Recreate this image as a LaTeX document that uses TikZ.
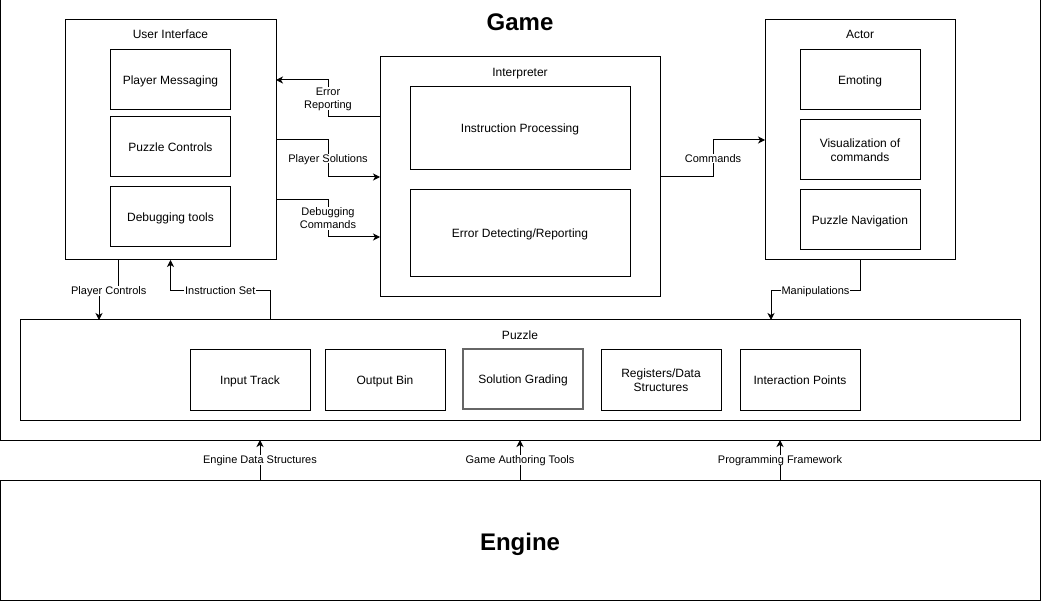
\documentclass[tikz,border=0pt]{standalone}
\usepackage{fontspec}
\setmainfont{Liberation Sans}
\usetikzlibrary{arrows.meta}
\definecolor{gradegray}{RGB}{102,102,102}

\tikzset{
  box/.style={draw, line width=1pt, inner sep=0pt, outer sep=0pt, align=center,
    text depth=0pt, font=\fontsize{12}{14}\selectfont},
  part/.style={box, minimum width=120pt, minimum height=60pt},
  heading/.style={inner sep=0pt, text depth=0pt, font=\fontsize{12}{14}\selectfont},
  bigheading/.style={inner sep=0pt, text depth=0pt, font=\fontsize{24}{28}\selectfont\bfseries},
  lbl/.style={fill=white, inner sep=1pt, align=center, text depth=0pt, font=\fontsize{11}{13}\selectfont},
  arr/.style={line width=1pt, -{Stealth[length=7pt,width=7pt,inset=2pt]}},
}

\begin{document}
\begin{tikzpicture}[x=1pt, y=-1pt]
\useasboundingbox (0,0) rectangle (1041,601);

% Game and Engine
\node[box, minimum width=1040pt, minimum height=440pt] (game) at (520,220) {};
\node[bigheading] (gametitle) at (520,22.5) {Game};
\node[box, minimum width=1040pt, minimum height=120pt] (engine) at (520,540) {};
\node[bigheading] (enginetitle) at (520,541.5) {Engine};

% User Interface
\node[box, minimum width=211pt, minimum height=240pt] (ui) at (170.5,140) {};
\node[heading] (uititle) at (170.5,34.5) {User Interface};
\node[part] (messaging) at (170.5,80) {Player Messaging};
\node[part] (controls) at (170.5,147) {Puzzle Controls};
\node[part] (debugtools) at (170.5,217) {Debugging tools};

% Interpreter
\node[box, minimum width=280pt, minimum height=240pt] (interp) at (520,177) {};
\node[heading] (interptitle) at (520,72.5) {Interpreter};
\node[box, minimum width=220pt, minimum height=83pt] (processing) at (520,128.5) {Instruction Processing};
\node[box, minimum width=220pt, minimum height=87pt] (detecting) at (520,233.5) {Error Detecting/Reporting};

% Actor
\node[box, minimum width=190pt, minimum height=240pt] (actor) at (860,140) {};
\node[heading] (actortitle) at (860,34.5) {Actor};
\node[part] (emoting) at (860,80) {Emoting};
\node[part] (visual) at (860,150) {Visualization of\\commands};
\node[part] (navigation) at (860,220) {Puzzle Navigation};

% Puzzle
\node[box, minimum width=1000pt, minimum height=100pt] (puzzle) at (520,370) {};
\node[heading] (puzzletitle) at (520,335.5) {Puzzle};
\node[part] (input) at (250,380) {Input Track};
\node[part] (output) at (385,380) {Output Bin};
\node[part, draw=gradegray, line width=1.5pt] (grading) at (523,379) {Solution Grading};
\node[part] (registers) at (661,380) {Registers/Data\\Structures};
\node[part] (interaction) at (800,380) {Interaction Points};

% Connectors inside the game
\draw[arr] ([yshift=60pt]interp.west) -- ++(-52,0) |- node[lbl, pos=0.25] {Error\\Reporting} ([yshift=60pt]ui.east);
\draw[arr] (ui.east) -- ++(52,0) |- node[lbl, pos=0.25] {Player Solutions} (interp.west);
\draw[arr] ([yshift=-60pt]ui.east) -- ++(52,0) |- node[lbl, pos=0.25] {Debugging\\Commands} ([yshift=-60pt]interp.west);
\draw[arr] (interp.east) -- ++(53,0) |- node[lbl, pos=0.25] {Commands} (actor.west);
\draw[arr] ([xshift=-52pt]ui.south) -- ++(0,31) -| node[lbl, pos=0.25] {Player Controls} ([xshift=-421pt]puzzle.north);
\draw[arr] ([xshift=-250pt]puzzle.north) -- ++(0,-29) -| node[lbl, pos=0.25] {Instruction Set} (ui.south);
\draw[arr] (actor.south) -- ++(0,31) -| node[lbl, pos=0.25] {Manipulations} ([xshift=251pt]puzzle.north);

% Engine to game
\draw[arr] ([xshift=-260pt]engine.north) -- node[lbl] {Engine Data Structures} ([xshift=-260pt]game.south);
\draw[arr] (engine.north) -- node[lbl] {Game Authoring Tools} (game.south);
\draw[arr] ([xshift=260pt]engine.north) -- node[lbl] {Programming Framework} ([xshift=260pt]game.south);

\end{tikzpicture}
\end{document}
